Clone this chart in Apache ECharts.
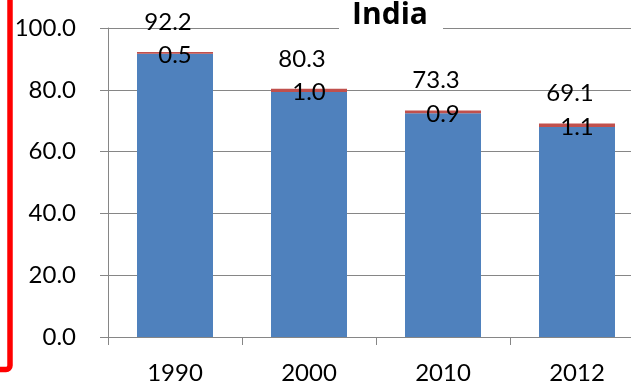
<!DOCTYPE html>
<html>
<head>
<meta charset="utf-8">
<script src="https://cdn.jsdelivr.net/npm/echarts@6/dist/echarts.min.js"></script>
<style>
  html, body { margin: 0; padding: 0; background: #fff; overflow: hidden; }
  #chart { width: 631px; height: 383px; }
</style>
</head>
<body>
<div id="chart"></div>
<script>
// India: stacked bars, top segment shown in red, with totals above
const years = ['1990', '2000', '2010', '2012'];
const totals = [92.2, 80.3, 73.3, 69.1];
const topPart = [0.5, 1.0, 0.9, 1.1];
const basePart = totals.map((t, i) => +(t - topPart[i]).toFixed(1));
const yTicks = [0, 20, 40, 60, 80, 100];

const FONT = 'Lato, "Open Sans", sans-serif';
const TITLE_FONT = '"Open Sans", Lato, sans-serif';
const GRAY = '#868686';

const chart = echarts.init(document.getElementById('chart'), null, { renderer: 'canvas' });

chart.setOption({
  animation: false,
  backgroundColor: '#ffffff',
  // the plot runs past the right edge of the canvas
  grid: { left: 108, top: 28, width: 536, height: 309, outerBoundsMode: 'none', containLabel: false },
  xAxis: {
    type: 'category',
    data: years,
    boundaryGap: true,
    axisLine: { show: true, lineStyle: { color: GRAY, width: 1 } },
    axisTick: { show: true, length: 8, alignWithLabel: false, lineStyle: { color: GRAY } },
    axisLabel: { color: '#000', fontFamily: FONT, fontSize: 24, margin: 24 },
    splitLine: { show: false }
  },
  yAxis: {
    type: 'value',
    min: yTicks[0],
    max: yTicks[yTicks.length - 1],
    interval: 20,
    axisLine: { show: true, lineStyle: { color: GRAY, width: 1 } },
    axisTick: { show: true, length: 8, lineStyle: { color: GRAY } },
    axisLabel: {
      color: '#000', fontFamily: FONT, fontSize: 24, margin: 32,
      formatter: v => v.toFixed(1)
    },
    splitLine: { show: true, lineStyle: { color: GRAY, width: 1 } }
  },
  series: [
    {
      name: 'base',
      type: 'bar',
      stack: 'total',
      barWidth: 76,
      data: basePart,
      itemStyle: { color: '#4f81bd' }
    },
    {
      name: 'top',
      type: 'bar',
      stack: 'total',
      barWidth: 76,
      data: topPart,
      itemStyle: { color: '#c0504d' },
      label: {
        show: true,
        position: 'inside',
        offset: [0, 2],
        color: '#000',
        fontFamily: FONT,
        fontSize: 24,
        formatter: p => p.value.toFixed(1)
      }
    },
    {
      name: 'total',
      type: 'scatter',
      data: totals,
      symbolSize: 0,
      silent: true,
      itemStyle: { opacity: 1, color: 'rgba(0,0,0,0)' },
      label: {
        show: true,
        position: 'inside',
        offset: [-7, -30],
        color: '#000',
        opacity: 1,
        fontFamily: FONT,
        fontSize: 24,
        formatter: p => p.value.toFixed(1)
      }
    }
  ],
  graphic: [
    {
      type: 'rect',
      z: 100,
      shape: { x: 339, y: 12, width: 104, height: 24 },
      style: { fill: '#ffffff' }
    },
    {
      type: 'text',
      z: 101,
      x: 390,
      y: 15,
      style: {
        text: 'India',
        fill: '#000',
        font: 'bold 30px ' + TITLE_FONT,
        align: 'center',
        verticalAlign: 'middle'
      }
    },
    {
      type: 'rect',
      z: 100,
      shape: { x: -20, y: -20, width: 30, height: 389.5, r: 4 },
      style: { fill: 'none', stroke: '#ff0000', lineWidth: 5.5 }
    }
  ]
});
</script>
</body>
</html>
